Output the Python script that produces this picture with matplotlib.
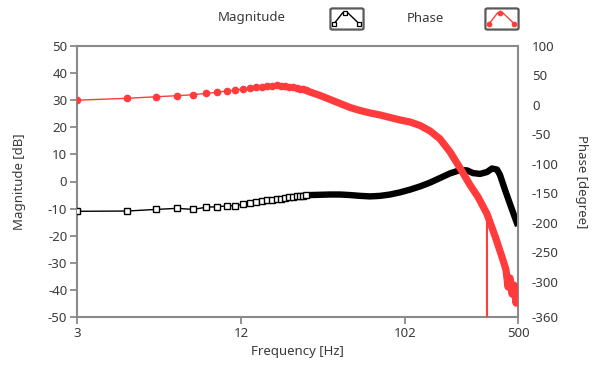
import numpy as np
import matplotlib
matplotlib.use('Agg')
import matplotlib.pyplot as plt
from matplotlib.patches import FancyBboxPatch
from matplotlib.ticker import FixedLocator, NullLocator

# =====================================================
# DATA
# =====================================================

# sparse low-frequency samples (markers visible)
freq_sparse = [3.0, 4.58, 5.86, 6.99, 7.99, 8.94, 9.82, 10.65, 11.44, 12.32,
               13.48, 14.61, 15.76, 16.92, 18.03, 19.17, 20.30, 21.42, 22.54,
               23.65, 24.76, 25.85, 26.95, 28.06]
mag_sparse = [-11.0, -10.9, -10.3, -9.9, -10.3, -9.5, -9.3, -9.0, -8.9, -8.4,
              -8.0, -7.7, -7.2, -7.0, -6.8, -6.5, -6.3, -6.0, -5.8, -5.6,
              -5.4, -5.3, -5.2, -5.1]
phase_sparse = [8.0, 11.2, 13.9, 15.6, 17.3, 19.7, 21.4, 23.6, 25.3, 27.0,
                28.2, 29.9, 30.9, 31.6, 32.1, 33.0, 32.6, 32.1, 30.7, 29.6,
                28.6, 27.0, 26.2, 24.8]

# dense samples (markers merge into a thick band)
freq_mag_dense = [29.53, 33.64, 38.34, 43.69, 49.78, 56.70, 64.62, 73.61, 83.87,
                  95.56, 109.4, 126.0, 145.0, 166.9, 192.1, 221.1, 244.0, 265.5,
                  293.0, 323.3, 346.8, 372.1, 388.2, 416.4, 446.8, 472.6, 500.0]
mag_dense = [-5.0, -4.9, -4.8, -4.8, -5.0, -5.3, -5.5, -5.3, -4.8, -4.0, -3.0,
             -1.8, -0.4, 1.3, 3.0, 4.2, 4.1, 3.1, 2.8, 3.5, 4.8, 4.4, 2.4, -3.1,
             -8.3, -12.4, -16.4]

freq_phase_dense = [29.53, 33.64, 38.34, 43.69, 49.78, 56.70, 64.62, 73.61, 83.87,
                    95.56, 109.4, 126.0, 145.0, 166.9, 192.1, 221.1, 254.5, 284.9,
                    323.3, 361.8, 404.8, 422.4, 434.4, 446.8, 459.5, 472.6, 486.2,
                    493.0, 500.0]
phase_dense = [21.9, 16.0, 9.2, 2.4, -4.4, -9.5, -13.7, -17.1, -21.4, -25.6,
               -29.0, -35.0, -44.3, -57.9, -79.9, -107.1, -136.0, -156.3, -185.2,
               -222.5, -263.3, -280.2, -309.1, -293.8, -321.0, -305.7, -336.3,
               -312.5, -341.3]

# single phase glitch sample
freq_glitch = [323.3, 323.3]
phase_glitch = [-185.2, -420.0]

x_ticks = [3, 12, 102, 500]
x_tick_pos = [0.0, 0.372, 0.744, 1.0]
mag_ticks = list(range(-50, 51, 10))
phase_ticks = [100, 50, 0, -50, -100, -150, -200, -250, -300, -360]

# =====================================================
# STYLE
# =====================================================

plt.rcParams['font.family'] = ['Noto Sans', 'DejaVu Sans']
plt.rcParams['axes.unicode_minus'] = False
TXT = '#3a3a3a'
GRID = '#8a8a8a'
RED = '#ff3b3b'

# piecewise-log frequency axis (tick labels are evenly spread)
log_t = np.log10(x_ticks)


def fwd(x):
    x = np.clip(np.asarray(x, dtype=float), 1e-6, None)
    return np.interp(np.log10(x), log_t, x_tick_pos,
                     left=-1.0, right=2.0)


def inv(p):
    return 10 ** np.interp(p, x_tick_pos, log_t)


fig = plt.figure(figsize=(5.93, 3.67), dpi=100)
ax = fig.add_axes([77 / 593, 50 / 367, 441 / 593, 271 / 367])
ax.set_xscale('function', functions=(fwd, inv))
ax2 = ax.twinx()

# =====================================================
# MAGNITUDE
# =====================================================

ax.plot(freq_sparse, mag_sparse, color='black', lw=1.0, marker='s',
        ms=4.0, mfc='white', mec='black', mew=1.0, zorder=3)
ax.plot(freq_sparse[-1:] + freq_mag_dense, mag_sparse[-1:] + mag_dense,
        color='black', lw=4.6, solid_capstyle='butt', zorder=2)

# =====================================================
# PHASE
# =====================================================

ax2.plot(freq_sparse, phase_sparse, color=RED, lw=1.0, marker='o',
         ms=4.5, mec=RED, mfc=RED, zorder=3)
ax2.plot(freq_sparse[-1:] + freq_phase_dense, phase_sparse[-1:] + phase_dense,
         color=RED, lw=5.2, solid_capstyle='butt', solid_joinstyle='round',
         zorder=2)
ax2.plot(freq_glitch, phase_glitch, color=RED, lw=1.5, zorder=2)

# =====================================================
# AXES
# =====================================================

ax.set_xlim(3, 500)
ax.xaxis.set_major_locator(FixedLocator(x_ticks))
ax.xaxis.set_minor_locator(NullLocator())
ax.set_xticklabels([str(t) for t in x_ticks])

ax.set_ylim(-50, 50)
ax.set_yticks(mag_ticks)
ax2.set_ylim(-360, 100)
ax2.set_yticks(phase_ticks)

for s in ax.spines.values():
    s.set_color(GRID)
    s.set_linewidth(1.5)
for s in ax2.spines.values():
    s.set_visible(False)

ax.tick_params(axis='both', colors=GRID, labelcolor=TXT, labelsize=9.5,
               length=5, width=1.3, pad=2)
ax2.tick_params(axis='y', length=0, pad=10, labelcolor=TXT, labelsize=9.5)

ax.set_xlabel('Frequency [Hz]', color=TXT, fontsize=9.5, labelpad=4)
ax.set_ylabel('Magnitude [dB]', color=TXT, fontsize=9.5, labelpad=16)
ax2.set_ylabel('Phase [degree]', color=TXT, fontsize=9.5, rotation=270,
               labelpad=21)

# =====================================================
# LEGEND (text + icon boxes)
# =====================================================

fig.text(252 / 593, 1 - 18 / 367, 'Magnitude', color=TXT, fontsize=9.5,
         ha='center', va='center')
fig.text(425 / 593, 1 - 18 / 367, 'Phase', color=TXT, fontsize=9.5,
         ha='center', va='center')


def legend_icon(x0, color, marker, mfc):
    iax = fig.add_axes([x0 / 593, 1 - 31 / 367, 36 / 593, 24 / 367])
    iax.set_xlim(0, 1)
    iax.set_ylim(0, 1)
    iax.axis('off')
    iax.add_patch(FancyBboxPatch((0.04, 0.06), 0.92, 0.88,
                                 boxstyle='round,pad=0,rounding_size=0.06',
                                 fc='white', ec='#5a5a5a', lw=1.6,
                                 transform=iax.transAxes, clip_on=False))
    iax.plot([0.14, 0.38, 0.52, 0.84], [0.30, 0.76, 0.76, 0.30],
             color=color, lw=1.0)
    iax.plot([0.14, 0.45, 0.84], [0.30, 0.76, 0.30], ls='none',
             marker=marker, ms=3.2, mfc=mfc, mec=color, mew=0.9)


legend_icon(329, 'black', 's', 'white')
legend_icon(484, RED, 'o', RED)

plt.savefig('out.png', dpi=100)
plt.close()
